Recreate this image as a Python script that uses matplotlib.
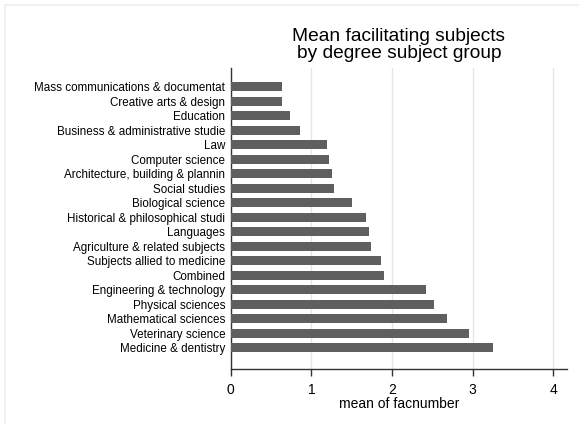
import matplotlib
matplotlib.use("Agg")
import matplotlib.pyplot as plt
from matplotlib.patches import Rectangle

categories = [
    "Mass communications & documentat",
    "Creative arts & design",
    "Education",
    "Business & administrative studie",
    "Law",
    "Computer science",
    "Architecture, building & plannin",
    "Social studies",
    "Biological science",
    "Historical & philosophical studi",
    "Languages",
    "Agriculture & related subjects",
    "Subjects allied to medicine",
    "Combined",
    "Engineering & technology",
    "Physical sciences",
    "Mathematical sciences",
    "Veterinary science",
    "Medicine & dentistry",
]
values = [0.63, 0.635, 0.74, 0.86, 1.19, 1.22, 1.26, 1.28, 1.50, 1.68,
          1.71, 1.74, 1.86, 1.90, 2.42, 2.52, 2.68, 2.95, 3.25]
xticks = [0, 1, 2, 3, 4]

plt.rcParams['font.family'] = ['Liberation Sans', 'DejaVu Sans']

fig = plt.figure(figsize=(5.79, 4.24), dpi=100)
fig.patch.set_facecolor('white')
fig.add_artist(Rectangle((5/579, -0.05), 1.1, 1 - 5/424 + 0.05, transform=fig.transFigure,
                         fill=False, edgecolor='#eeeeee', linewidth=1.2))

ax = fig.add_axes([230.7/579, 1 - 369/424, (567 - 230.7)/579, (369 - 68)/424])
pos = list(range(len(categories)))
ax.barh(pos, values, height=0.62, color='#5f5f5f', zorder=3)
ax.set_ylim(len(categories) - 1 + 1.45, -1.31)
ax.set_xlim(0, 4.17)
ax.set_yticks(pos)
ax.set_yticklabels(categories, fontsize=8.4)
ax.tick_params(axis='y', length=0, pad=4)
ax.set_xticks(xticks)
ax.set_xticklabels([str(t) for t in xticks], fontsize=10)
ax.tick_params(axis='x', length=5, width=1, color='#333333', pad=5)
ax.grid(axis='x', color='#e6e6e6', linewidth=1, zorder=0)
for s in ['top', 'right']:
    ax.spines[s].set_visible(False)
for s in ['left', 'bottom']:
    ax.spines[s].set_color('#333333')
    ax.spines[s].set_linewidth(1)
ax.set_xlabel("mean of facnumber", fontsize=10, labelpad=0)
ax.set_title("Mean facilitating subjects\nby degree subject group", fontsize=13.8, pad=7, linespacing=1.0)

fig.savefig("out.png", dpi=100)
